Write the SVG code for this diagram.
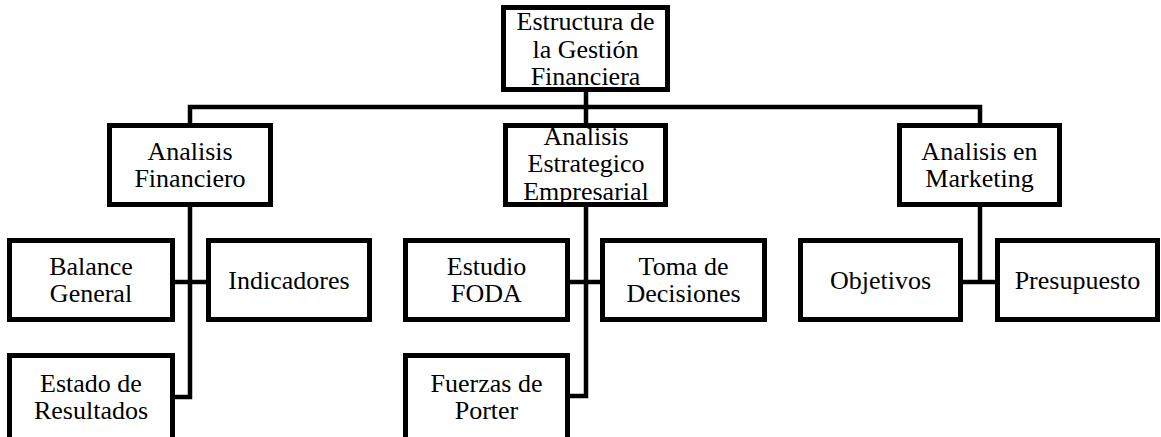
<svg xmlns="http://www.w3.org/2000/svg" width="1161" height="437" viewBox="0 0 1161 437">
<style>
.box{fill:#fff;stroke:#000;stroke-width:5}
.con{fill:none;stroke:#000;stroke-width:4.5}
text{font-family:"Liberation Serif","Times New Roman",serif;font-size:26px;fill:#000;text-anchor:middle}
</style>
<rect width="1161" height="437" fill="#fff"/>
<g id="connectors">
<polyline class="con" points="190,123 190,107 980,107 980,123"/>
<line class="con" x1="586" y1="90" x2="586" y2="123"/>
<polyline class="con" points="190,207 190,397 175,397"/>
<line class="con" x1="175" y1="282" x2="206" y2="282"/>
<polyline class="con" points="586,207 586,396 570,396"/>
<line class="con" x1="570" y1="282" x2="600" y2="282"/>
<line class="con" x1="980" y1="207" x2="980" y2="282"/>
<line class="con" x1="963" y1="282" x2="995" y2="282"/>
</g>
<g id="n-root"><rect class="box" x="503.5" y="7.5" width="164" height="82"/><text x="585.5" y="30">Estructura de</text><text x="585.5" y="58">la Gestión</text><text x="585.5" y="85">Financiera</text></g>
<g id="n-af"><rect class="box" x="109.5" y="125.5" width="161" height="79"/><text x="190" y="160">Analisis</text><text x="190" y="187">Financiero</text></g>
<g id="n-aee"><rect class="box" x="505.5" y="125.5" width="160" height="79"/><text x="586" y="145">Analisis</text><text x="586" y="172">Estrategico</text><text x="586" y="200">Empresarial</text></g>
<g id="n-am"><rect class="box" x="899.5" y="125.5" width="160" height="79"/><text x="979.5" y="160">Analisis en</text><text x="979.5" y="187">Marketing</text></g>
<g id="n-bg"><rect class="box" x="9.5" y="240.5" width="163" height="79"/><text x="91" y="275">Balance</text><text x="91" y="302">General</text></g>
<g id="n-ind"><rect class="box" x="208.5" y="240.5" width="161" height="79"/><text x="289" y="289">Indicadores</text></g>
<g id="n-er"><rect class="box" x="9.5" y="355.5" width="163" height="90"/><text x="91" y="392">Estado de</text><text x="91" y="419">Resultados</text></g>
<g id="n-foda"><rect class="box" x="405.5" y="240.5" width="162" height="79"/><text x="486.5" y="275">Estudio</text><text x="486.5" y="302">FODA</text></g>
<g id="n-toma"><rect class="box" x="602.5" y="240.5" width="162" height="79"/><text x="683.5" y="275">Toma de</text><text x="683.5" y="302">Decisiones</text></g>
<g id="n-porter"><rect class="box" x="405.5" y="355.5" width="162" height="90"/><text x="486.5" y="392">Fuerzas de</text><text x="486.5" y="419">Porter</text></g>
<g id="n-obj"><rect class="box" x="800.5" y="240.5" width="160" height="79"/><text x="880.5" y="289">Objetivos</text></g>
<g id="n-pres"><rect class="box" x="997.5" y="240.5" width="160" height="79"/><text x="1077.5" y="289">Presupuesto</text></g>
</svg>
